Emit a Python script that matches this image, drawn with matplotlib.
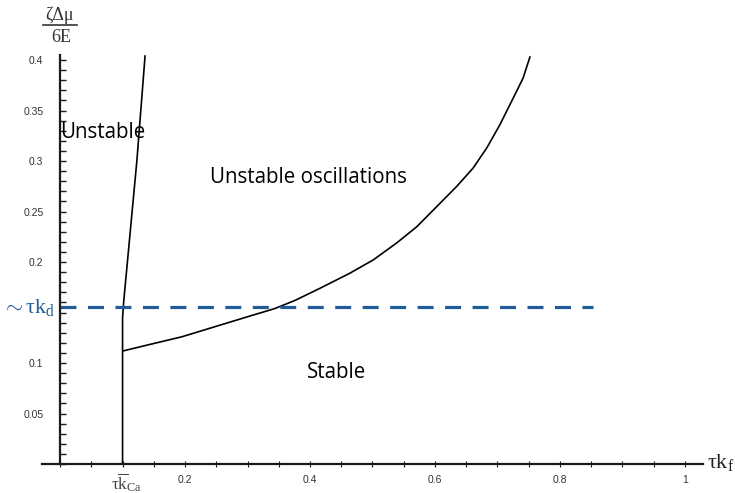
import matplotlib

matplotlib.use("Agg")
import matplotlib.pyplot as plt
from matplotlib.lines import Line2D
from matplotlib.ticker import FixedLocator, MultipleLocator

# ===== data =====
# lower boundary of the unstable-oscillation region (starts at the k_Ca wall)
hopf_x = [0.101, 0.141, 0.195, 0.248, 0.301, 0.344, 0.376, 0.416, 0.464, 0.501,
          0.539, 0.571, 0.603, 0.635, 0.661, 0.683, 0.704, 0.725, 0.741, 0.752]
hopf_y = [0.112, 0.118, 0.126, 0.136, 0.146, 0.154, 0.162, 0.174, 0.189, 0.202,
          0.219, 0.235, 0.255, 0.275, 0.293, 0.313, 0.336, 0.362, 0.382, 0.403]

# left boundary separating the monotonic "Unstable" region
wall_x = [0.1, 0.1, 0.102, 0.123, 0.136]
wall_y = [0.0, 0.145, 0.162, 0.301, 0.404]

kd_level = 0.155   # ~ tau k_d
kd_xmax = 0.853
kca = 0.1

ytick_vals = [0.05, 0.1, 0.15, 0.2, 0.25, 0.3, 0.35, 0.4]
ytick_labels = ["0.05", "0.1", "", "0.2", "0.25", "0.3", "0.35", "0.4"]
xtick_vals = [0.1, 0.2, 0.4, 0.6, 0.8, 1.0]
xtick_labels = ["", "0.2", "0.4", "0.6", "0.8", "1"]

region_names = ["Unstable", "Unstable oscillations", "Stable"]
region_pos = [(0.0, 0.328), (0.24, 0.284), (0.395, 0.091)]

# ===== style =====
plt.rcParams["mathtext.fontset"] = "custom"
plt.rcParams["mathtext.rm"] = "Liberation Serif"
plt.rcParams["mathtext.it"] = "Liberation Serif:italic"

KD_BLUE = "#215c98"
INK = "#1a1a1a"

fig = plt.figure(figsize=(7.35, 4.93), dpi=100)
ax = fig.add_axes([0.0571, 0.0588, 0.8993, 0.8296])

ax.plot(wall_x, wall_y, color="black", lw=1.2)
ax.plot(hopf_x, hopf_y, color="black", lw=1.2)
ax.plot([0, kd_xmax], [kd_level, kd_level], color=KD_BLUE, lw=2.3,
        dashes=(5, 3.6))

ax.set_xlim(-0.029, 1.029)
ax.set_ylim(0, 0.405)

for side in ("top", "right"):
    ax.spines[side].set_visible(False)
ax.spines["left"].set_position(("data", 0))
ax.spines["left"].set_linewidth(1.6)
ax.spines["bottom"].set_linewidth(1.6)
ax.spines["left"].set_color(INK)
ax.spines["bottom"].set_color(INK)

# y axis: ticks pointing inward, labels every 0.05
ax.yaxis.set_major_locator(FixedLocator(ytick_vals))
ax.set_yticklabels(ytick_labels)
ax.yaxis.set_minor_locator(MultipleLocator(0.01))
ax.tick_params(axis="y", which="both", direction="in", length=4, width=1.0,
               color=INK, pad=12, labelsize=7.5, labelcolor="#333333")
for lab in ax.get_yticklabels():
    lab.set_family("Liberation Sans")

# x axis
ax.xaxis.set_major_locator(FixedLocator(xtick_vals))
ax.set_xticklabels(xtick_labels)
ax.xaxis.set_minor_locator(MultipleLocator(0.05))
ax.tick_params(axis="x", which="both", direction="inout", length=4, width=0.8,
               color=INK, pad=6, labelsize=7.5, labelcolor="#333333")
for lab in ax.get_xticklabels():
    lab.set_family("Liberation Sans")

# k_Ca marker under the wall
ax.text(kca + 0.007, -0.046, r"$\mathrm{\tau\overline{k}_{Ca}}$",
        transform=ax.get_xaxis_transform(), ha="center", va="center",
        fontsize=12.5, color="#444444")

# region names
for name, (tx, ty) in zip(region_names, region_pos):
    ax.text(tx, ty, name, ha="left", va="center", fontsize=14.8,
            family="Open Sans", color="black")

# ~tau k_d marker on the y axis
ax.text(-0.007, kd_level, r"$\mathrm{\sim\tau k_d}$", ha="right", va="center",
        fontsize=16, color=KD_BLUE)

# axis labels: fraction on top of the y axis, tau k_f at the end of x axis
fig.text(0.081, 0.968, "ζΔμ", ha="center", va="center", fontsize=13,
         family="Liberation Serif", color="#333333")
fig.add_artist(Line2D([0.058, 0.105], [0.949, 0.949], color="#333333", lw=1.2))
fig.text(0.084, 0.923, "6E", ha="center", va="center", fontsize=13,
         family="Liberation Serif", color="#333333")
fig.text(0.962, 0.062, r"$\mathrm{\tau k_f}$", ha="left", va="center",
         fontsize=16, color="#222222")

fig.savefig("out.png", dpi=100)
